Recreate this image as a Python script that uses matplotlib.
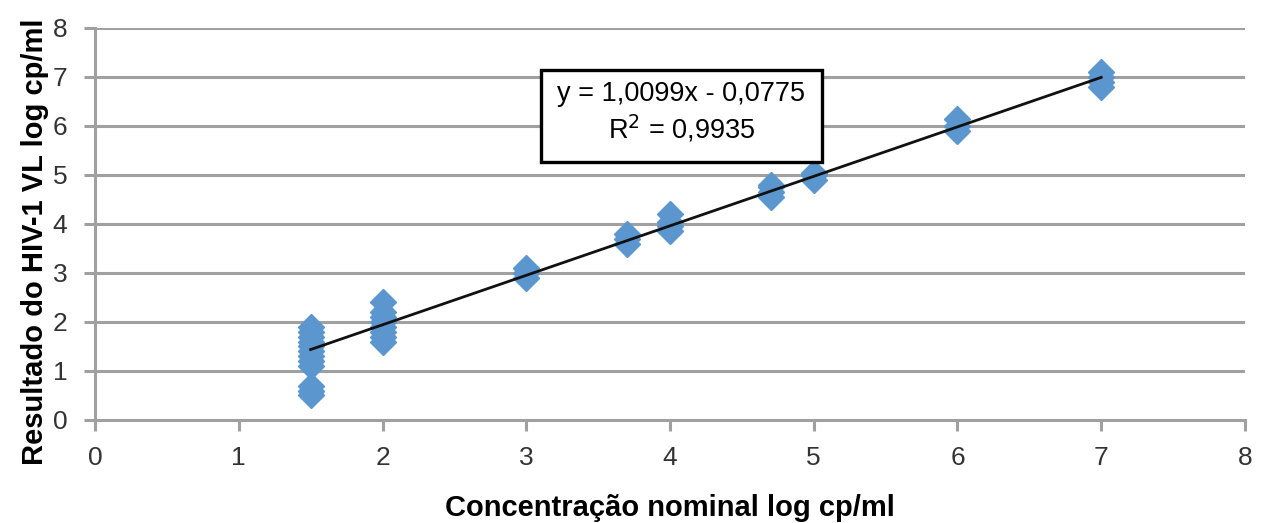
import matplotlib
matplotlib.use("Agg")
import matplotlib.pyplot as plt
from matplotlib.patches import Rectangle

# valores (log cp/ml)
conc_nominal = [1.5] * 12 + [2.0] * 8 + [3.0] * 3 + [3.7] * 3 + [4.0] * 4 + [4.7] * 4 + [5.0] * 3 + [6.0] * 3 + [7.0] * 4
resultado = [0.5, 0.6, 0.7, 1.1, 1.2, 1.3, 1.4, 1.5, 1.6, 1.7, 1.8, 1.9,
             1.6, 1.7, 1.8, 1.9, 2.0, 2.1, 2.2, 2.4,
             2.9, 3.0, 3.1,
             3.6, 3.7, 3.8,
             3.85, 3.95, 4.05, 4.2,
             4.55, 4.65, 4.75, 4.8,
             4.9, 5.0, 5.05,
             5.9, 6.0, 6.15,
             6.8, 6.9, 7.0, 7.1]
slope = 1.0099
intercept = -0.0775
r2 = 0.9935

plt.rcParams['font.family'] = ['Liberation Sans', 'DejaVu Sans']
fig = plt.figure(figsize=(12.62, 5.23), dpi=100)
ax = fig.add_axes([0.0753, 0.197, 0.9112, 0.7495])

grid_col = "#A0A0A0"
for yv in range(1, 9):
    ax.axhline(yv, color=grid_col, linewidth=2.2, zorder=0)

ax.plot(conc_nominal, resultado, linestyle="none", marker="D", markersize=13,
        color="#5B96CF", markeredgecolor="#5B96CF", markeredgewidth=1, zorder=2)

xs = [min(conc_nominal), max(conc_nominal)]
ax.plot(xs, [slope * x + intercept for x in xs], color="#111111", linewidth=2, zorder=3)

# caixa da equacao
ax.add_patch(Rectangle((0.3878, 0.6582), 0.2444, 0.2347, transform=ax.transAxes,
                       facecolor="white", edgecolor="black", linewidth=2.4, zorder=4))
eq = f"y = {slope:.4f}x - {abs(intercept):.4f}".replace(".", ",")
r2_txt = f"R$^2$ = {r2:.4f}".replace(".", ",")
ax.text(0.510, 0.783, eq + "\n" + r2_txt, transform=ax.transAxes, ha="center", va="center",
        fontsize=19.5, linespacing=1.25, zorder=5)

ax.set_xlim(0, 8)
ax.set_ylim(0, 8)
ax.set_xticks(range(0, 9))
ax.set_yticks(range(0, 9))
for s in ["top", "right"]:
    ax.spines[s].set_visible(False)
for s in ["left", "bottom"]:
    ax.spines[s].set_color(grid_col)
    ax.spines[s].set_linewidth(2.2)
ax.tick_params(axis="both", direction="out", length=8, width=2.2, color=grid_col,
               labelsize=19, labelcolor="#333333")
ax.tick_params(axis="y", pad=12)
ax.tick_params(axis="x", pad=11)

ax.set_xlabel("Concentração nominal log cp/ml", fontsize=21, fontweight="bold", labelpad=17)
ax.set_ylabel("Resultado do HIV-1 VL log cp/ml", fontsize=21, fontweight="bold")
ax.yaxis.set_label_coords(-0.04, 0.454)

fig.savefig("out.png", dpi=100)
